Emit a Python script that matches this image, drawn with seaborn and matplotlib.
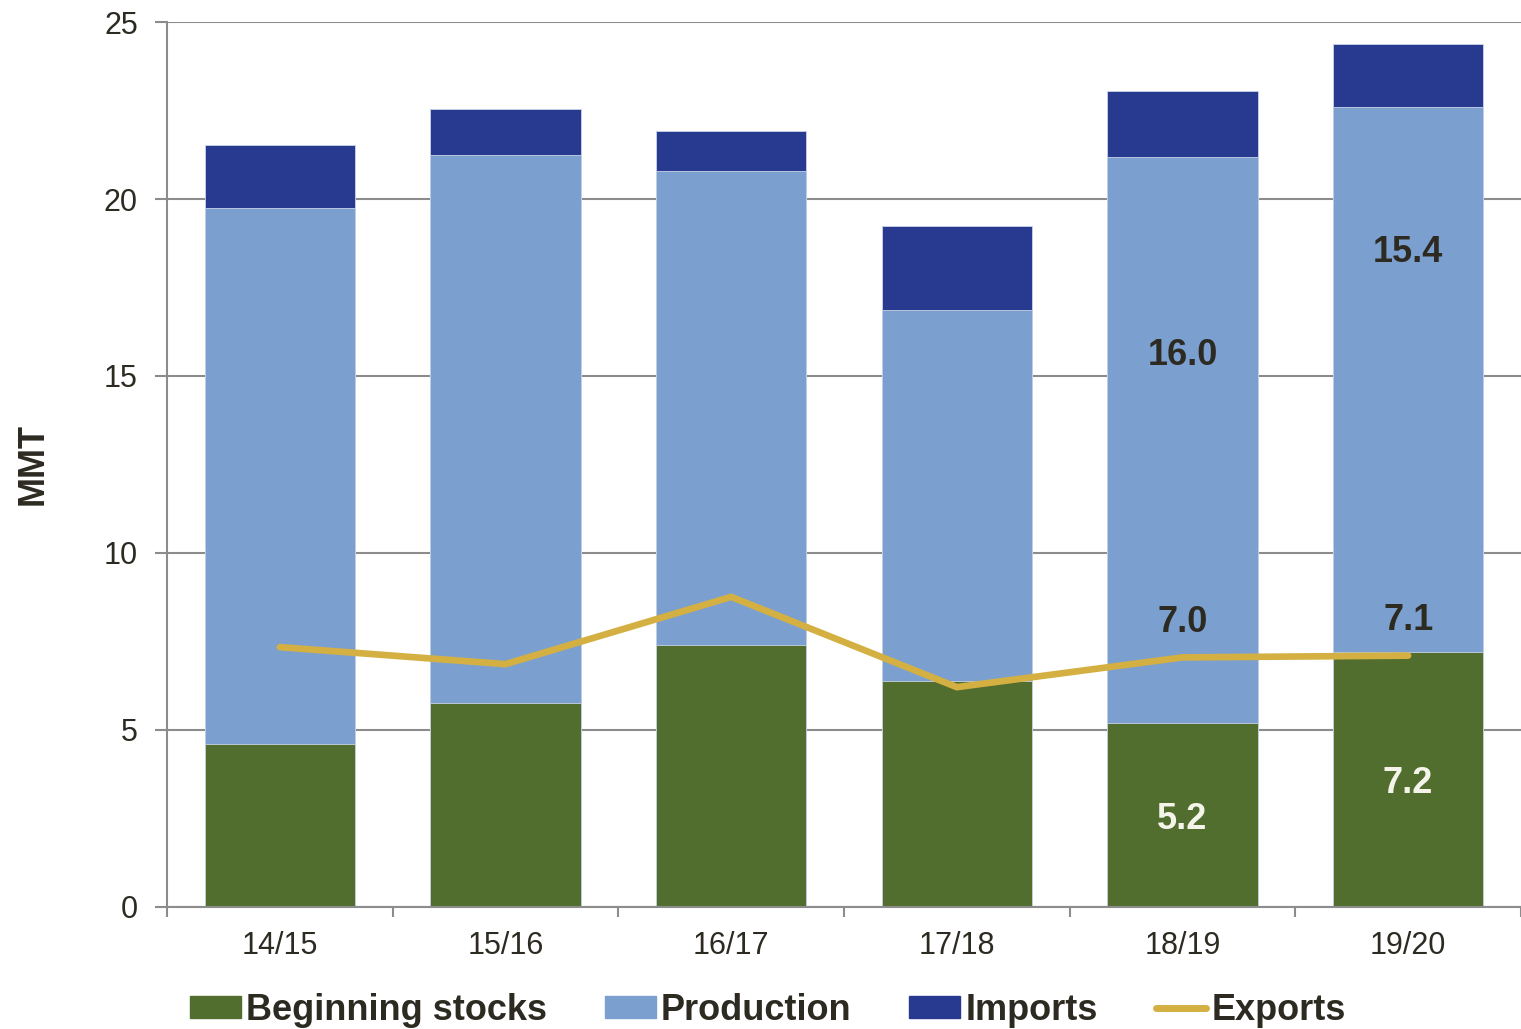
import numpy as np
import pandas as pd
import seaborn as sns
import matplotlib.pyplot as plt
from matplotlib.patches import Patch
from matplotlib.lines import Line2D
from matplotlib.ticker import MultipleLocator, FixedLocator

#----------------------------------------
years = ['14/15', '15/16', '16/17', '17/18', '18/19', '19/20']
beginning_stocks = [4.6, 5.76, 7.4, 6.38, 5.2, 7.2]
production = [15.15, 15.48, 13.39, 10.48, 16.0, 15.4]
imports = [1.78, 1.30, 1.13, 2.38, 1.85, 1.78]
exports = [7.34, 6.86, 8.76, 6.21, 7.05, 7.1]

c_stocks = '#516e2e'
c_prod = '#7ba0cf'
c_imp = '#283a8f'
c_exp = '#d4b042'
c_text = '#2d2a22'
c_grid = '#8c8c8c'
#----------------------------------------

sns.set_theme(style='white')
plt.rcParams['font.family'] = ['Liberation Sans', 'DejaVu Sans']
plt.rcParams['text.color'] = c_text

df = pd.DataFrame({'year': years, 'stocks': beginning_stocks,
                   'production': production, 'imports': imports,
                   'exports': exports})
df['prod_top'] = df.stocks + df.production
df['imp_top'] = df.prod_top + df.imports

fig = plt.figure(figsize=(15.21, 10.29), dpi=100)
ax = fig.add_axes([0.1098, 0.1186, 0.8902, 0.86])

# stacked bars: draw cumulative totals back to front
w = 0.665
sns.barplot(data=df, x='year', y='imp_top', color=c_imp, width=w, ax=ax,
            saturation=1, edgecolor='#c9d3e6', linewidth=0.6, zorder=2)
sns.barplot(data=df, x='year', y='prod_top', color=c_prod, width=w, ax=ax,
            saturation=1, edgecolor='#c9d3e6', linewidth=0.6, zorder=2)
sns.barplot(data=df, x='year', y='stocks', color=c_stocks, width=w, ax=ax,
            saturation=1, edgecolor='#c9d3e6', linewidth=0.6, zorder=2)
sns.lineplot(data=df, x='year', y='exports', color=c_exp, lw=4.8, sort=False,
             solid_capstyle='round', solid_joinstyle='miter', ax=ax, zorder=3)

ax.set_xlim(-0.5, 5.5)
ax.set_ylim(0, 25)
ax.yaxis.set_major_locator(MultipleLocator(5))
ax.grid(axis='y', color=c_grid, lw=1.5, zorder=0)
ax.set_axisbelow(True)
for s in ['top', 'right']:
    ax.spines[s].set_visible(False)
for s in ['left', 'bottom']:
    ax.spines[s].set_color(c_grid)
    ax.spines[s].set_linewidth(1.5)

ax.xaxis.set_minor_locator(FixedLocator(np.arange(-0.5, 6, 1)))
ax.tick_params(axis='x', which='major', length=0, pad=17, labelsize=22,
               labelcolor=c_text)
ax.tick_params(axis='x', which='minor', length=7, width=1.5, color=c_grid,
               bottom=True, direction='out')
ax.tick_params(axis='y', which='major', length=9, width=1.5, color=c_grid,
               left=True, pad=12, labelsize=22, labelcolor=c_text)
ax.set_xlabel('')
ax.set_ylabel('MMT', fontsize=26, fontweight='bold', color=c_text, labelpad=38)

# value labels
lab = dict(fontsize=26, fontweight='bold', ha='center', va='center')
d = 0.12
ax.text(4, df.stocks[4] / 2 - d, f'{beginning_stocks[4]:.1f}', color='#f4f4ea', **lab)
ax.text(5, df.stocks[5] / 2 - d, f'{beginning_stocks[5]:.1f}', color='#f4f4ea', **lab)
ax.text(4, df.prod_top[4] - 5.5 - d, f'{production[4]:.1f}', color=c_text, **lab)
ax.text(5, df.prod_top[5] - 4.0 - d, f'{production[5]:.1f}', color=c_text, **lab)
ax.text(4, exports[4] + 1.1 - d, f'{exports[4]:.1f}', color=c_text, **lab)
ax.text(5, exports[5] + 1.1 - d, f'{exports[5]:.1f}', color=c_text, **lab)

handles = [Patch(color=c_stocks, label='Beginning stocks'),
           Patch(color=c_prod, label='Production'),
           Patch(color=c_imp, label='Imports'),
           Line2D([], [], color=c_exp, lw=5, solid_capstyle='round',
                  label='Exports')]
fig.legend(handles=handles, loc='center', bbox_to_anchor=(0.505, 0.018),
           ncol=4, frameon=False, prop={'size': 26, 'weight': 'bold'},
           handlelength=1.4, handleheight=0.55, handletextpad=0.15,
           columnspacing=1.6, borderpad=0)

fig.savefig('out.png', dpi=100)
